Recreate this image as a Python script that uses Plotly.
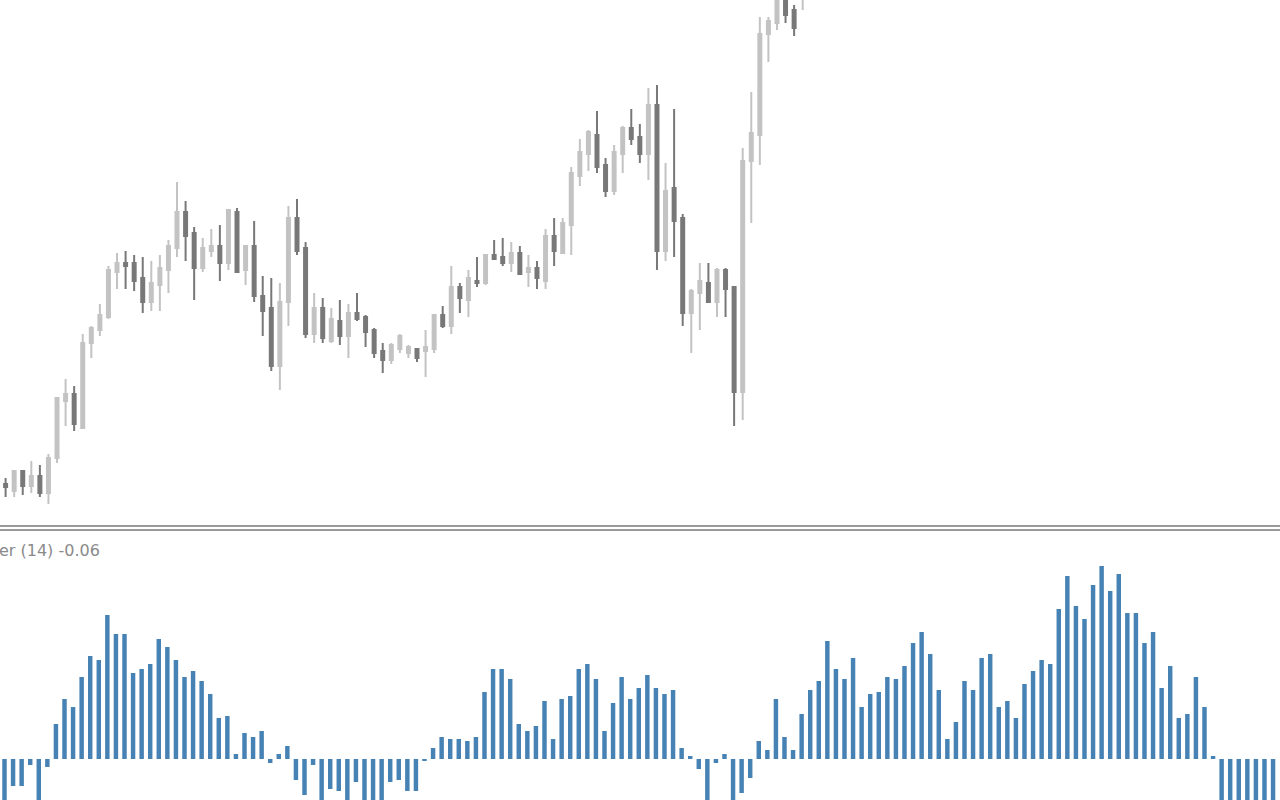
import plotly.graph_objects as go

# ---- price pane (OHLC) ----
candle_idx = list(range(94))
open_ = [1.116, 1.109, 1.129, 1.114, 1.124, 1.107, 1.142, 1.199, 1.206, 1.172,
         1.257, 1.270, 1.283, 1.328, 1.337, 1.337, 1.322, 1.298, 1.315, 1.330,
         1.352, 1.388, 1.367, 1.332, 1.349, 1.354, 1.337, 1.388, 1.330, 1.354,
         1.304, 1.292, 1.234, 1.298, 1.382, 1.352, 1.266, 1.292, 1.259, 1.279,
         1.264, 1.287, 1.283, 1.270, 1.249, 1.240, 1.251, 1.247, 1.251, 1.249,
         1.251, 1.285, 1.274, 1.313, 1.300, 1.319, 1.317, 1.345, 1.343, 1.337,
         1.347, 1.328, 1.332, 1.319, 1.364, 1.347, 1.375, 1.424, 1.446, 1.465,
         1.435, 1.409, 1.446, 1.472, 1.463, 1.446, 1.495, 1.349, 1.412, 1.382,
         1.287, 1.307, 1.317, 1.298, 1.330, 1.313, 1.208, 1.439, 1.465, 1.566,
         1.577, 1.612, 1.590, 1.605]
high = [1.122, 1.130, 1.130, 1.139, 1.135, 1.146, 1.203, 1.221, 1.214, 1.266,
        1.274, 1.296, 1.334, 1.347, 1.349, 1.345, 1.343, 1.339, 1.345, 1.360,
        1.418, 1.399, 1.373, 1.362, 1.371, 1.375, 1.391, 1.392, 1.354, 1.379,
        1.324, 1.322, 1.317, 1.394, 1.401, 1.358, 1.307, 1.302, 1.292, 1.300,
        1.296, 1.307, 1.285, 1.272, 1.257, 1.257, 1.266, 1.255, 1.251, 1.270,
        1.285, 1.294, 1.334, 1.317, 1.330, 1.343, 1.345, 1.360, 1.362, 1.358,
        1.354, 1.345, 1.339, 1.371, 1.382, 1.382, 1.433, 1.461, 1.470, 1.489,
        1.442, 1.455, 1.474, 1.491, 1.476, 1.512, 1.515, 1.437, 1.491, 1.386,
        1.311, 1.337, 1.337, 1.332, 1.332, 1.313, 1.452, 1.508, 1.583, 1.583,
        1.620, 1.625, 1.595, 1.640]
low = [1.103, 1.103, 1.105, 1.107, 1.103, 1.096, 1.137, 1.174, 1.169, 1.172,
       1.242, 1.264, 1.281, 1.311, 1.311, 1.309, 1.287, 1.289, 1.289, 1.307,
       1.343, 1.339, 1.300, 1.328, 1.343, 1.319, 1.330, 1.328, 1.315, 1.298,
       1.264, 1.229, 1.210, 1.274, 1.345, 1.262, 1.257, 1.257, 1.257, 1.255,
       1.242, 1.279, 1.253, 1.242, 1.227, 1.236, 1.247, 1.242, 1.238, 1.223,
       1.247, 1.272, 1.266, 1.287, 1.283, 1.313, 1.315, 1.341, 1.334, 1.328,
       1.326, 1.313, 1.311, 1.311, 1.334, 1.347, 1.345, 1.414, 1.429, 1.427,
       1.403, 1.405, 1.427, 1.455, 1.437, 1.420, 1.330, 1.339, 1.343, 1.274,
       1.247, 1.270, 1.298, 1.283, 1.283, 1.174, 1.180, 1.377, 1.435, 1.538,
       1.570, 1.577, 1.564, 1.590]
close = [1.113, 1.129, 1.114, 1.124, 1.107, 1.142, 1.202, 1.206, 1.176, 1.257,
         1.272, 1.285, 1.330, 1.337, 1.334, 1.319, 1.298, 1.317, 1.332, 1.354,
         1.388, 1.364, 1.332, 1.352, 1.354, 1.337, 1.390, 1.328, 1.354, 1.304,
         1.289, 1.234, 1.298, 1.382, 1.349, 1.266, 1.292, 1.262, 1.281, 1.264,
         1.287, 1.281, 1.268, 1.247, 1.240, 1.255, 1.264, 1.253, 1.242, 1.253,
         1.285, 1.274, 1.313, 1.302, 1.322, 1.317, 1.345, 1.341, 1.337, 1.347,
         1.326, 1.332, 1.322, 1.364, 1.349, 1.377, 1.427, 1.448, 1.468, 1.433,
         1.409, 1.448, 1.472, 1.461, 1.446, 1.495, 1.349, 1.409, 1.379, 1.287,
         1.309, 1.319, 1.298, 1.330, 1.311, 1.208, 1.439, 1.467, 1.566, 1.579,
         1.612, 1.585, 1.572, 1.630]

# ---- indicator pane (histogram, period 14) ----
ind_idx = list(range(149))
ind_values = [
    -0.050, -0.027, -0.027, -0.006, -0.045, -0.008, 0.035, 0.060, 0.052, 0.082,
    0.103, 0.099, 0.144, 0.125, 0.125, 0.086, 0.090, 0.095, 0.120, 0.112,
    0.099, 0.082, 0.088, 0.078, 0.065, 0.041, 0.043, 0.005, 0.026, 0.022,
    0.028, -0.004, 0.005, 0.013, -0.021, -0.036, -0.006, -0.048, -0.030, -0.032,
    -0.044, -0.023, -0.050, -0.052, -0.046, -0.023, -0.021, -0.032, -0.032, -0.002,
    0.011, 0.022, 0.020, 0.020, 0.018, 0.022, 0.067, 0.090, 0.090, 0.080,
    0.035, 0.028, 0.033, 0.058, 0.020, 0.060, 0.063, 0.090, 0.095, 0.080,
    0.028, 0.056, 0.082, 0.060, 0.071, 0.084, 0.071, 0.065, 0.069, 0.011,
    0.003, -0.010, -0.047, -0.004, 0.005, -0.044, -0.034, -0.019, 0.018, 0.009,
    0.060, 0.022, 0.009, 0.045, 0.069, 0.078, 0.118, 0.090, 0.080, 0.101,
    0.052, 0.065, 0.067, 0.082, 0.080, 0.093, 0.116, 0.127, 0.105, 0.069,
    0.020, 0.037, 0.078, 0.069, 0.101, 0.105, 0.052, 0.058, 0.041, 0.075,
    0.088, 0.099, 0.095, 0.150, 0.183, 0.153, 0.140, 0.174, 0.193, 0.168,
    0.185, 0.146, 0.146, 0.116, 0.127, 0.071, 0.093, 0.041, 0.045, 0.082,
    0.052, 0.003, -0.052, -0.055, -0.057, -0.058, -0.059, -0.060, -0.060]
ind_label = "er (14) -0.06"

BULL = "#c3c3c3"
BEAR = "#787878"
BAR = "#4682b4"

fig = go.Figure()
fig.add_trace(go.Candlestick(
    x=candle_idx, open=open_, high=high, low=low, close=close,
    xaxis="x", yaxis="y",
    increasing=dict(line=dict(color=BULL, width=2), fillcolor=BULL),
    decreasing=dict(line=dict(color=BEAR, width=2), fillcolor=BEAR),
    showlegend=False, hoverinfo="skip",
))
fig.add_trace(go.Bar(
    x=ind_idx, y=ind_values, xaxis="x2", yaxis="y2",
    marker=dict(color=BAR, line=dict(width=0)),
    showlegend=False, hoverinfo="skip",
))

fig.update_layout(
    width=1280, height=800,
    margin=dict(l=0, r=0, t=0, b=0),
    paper_bgcolor="white", plot_bgcolor="white",
    boxgap=0.5, bargap=0.48,
    xaxis=dict(domain=[0, 1], range=[-0.653, 148.69], visible=False,
               rangeslider=dict(visible=False), anchor="y"),
    yaxis=dict(domain=[0.3475, 1], range=[1.078, 1.600], visible=False),
    xaxis2=dict(domain=[0, 1], range=[-0.525, 148.81], visible=False, anchor="y2"),
    yaxis2=dict(domain=[0, 0.335], range=[-0.041, 0.227], visible=False),
    shapes=[
        dict(type="line", xref="paper", yref="paper", x0=0, x1=1,
             y0=1 - 526 / 800, y1=1 - 526 / 800, line=dict(color="#9a9a9a", width=2)),
        dict(type="line", xref="paper", yref="paper", x0=0, x1=1,
             y0=1 - 530 / 800, y1=1 - 530 / 800, line=dict(color="#9a9a9a", width=2)),
    ],
    annotations=[
        dict(text=ind_label, xref="paper", yref="paper", x=-0.002, y=1 - 550 / 800,
             xanchor="left", yanchor="middle", showarrow=False,
             font=dict(family="DejaVu Sans", size=16, color="#8a8a8a")),
    ],
)

fig.write_html(
    "out.html",
    config={"displayModeBar": False, "staticPlot": True},
    post_script="document.body.style.margin='0';document.body.style.overflow='hidden';",
)
